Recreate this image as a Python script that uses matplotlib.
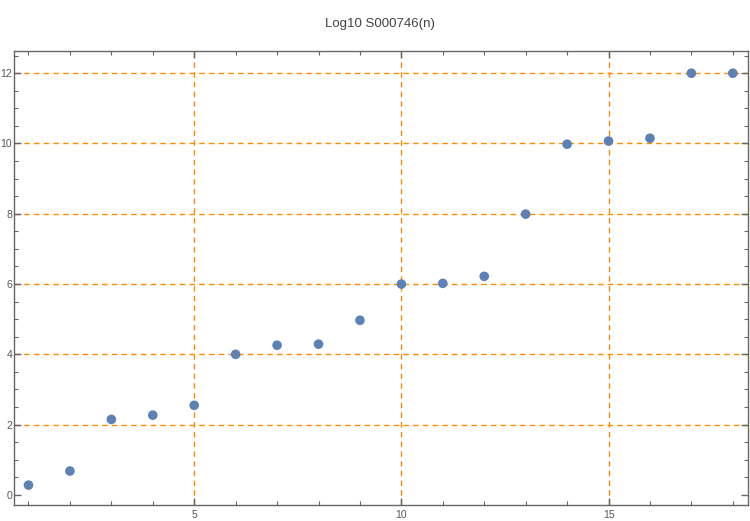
import matplotlib
matplotlib.use("Agg")
import matplotlib.pyplot as plt
from matplotlib.ticker import MultipleLocator, FixedLocator

n = list(range(1, 19))
values = [0.28, 0.68, 2.15, 2.27, 2.55, 4.00, 4.26, 4.29, 4.97,
          6.00, 6.02, 6.22, 7.99, 9.98, 10.07, 10.15, 12.0, 12.0]
x_major = [5, 10, 15]
y_major = [0, 2, 4, 6, 8, 10, 12]
title = "Log10 S000746(n)"

plt.rcParams['font.family'] = ['Liberation Sans', 'DejaVu Sans']
fig = plt.figure(figsize=(7.5, 5.21), dpi=100)
ax = fig.add_axes([0.0192, 0.0298, 0.9778, 0.8722])

frame_col = '#666666'
grid_col = '#FF8C00'

for xv in x_major:
    ax.axvline(xv, color=grid_col, lw=1.0, ls=(0, (4, 3)), zorder=1)
for yv in y_major[1:]:
    ax.axhline(yv, color=grid_col, lw=1.0, ls=(0, (4, 3)), zorder=1)

ax.scatter(n, values, s=48, color='#5E81B5', zorder=3, edgecolors='none')

ax.set_xlim(0.66, 18.36)
ax.set_ylim(-0.30, 12.63)

ax.xaxis.set_major_locator(FixedLocator(x_major))
ax.xaxis.set_minor_locator(MultipleLocator(1))
ax.yaxis.set_major_locator(FixedLocator(y_major))
ax.yaxis.set_minor_locator(MultipleLocator(0.5))

ax.tick_params(which='both', direction='in', top=True, right=True,
               color=frame_col, labelcolor='#555555', labelsize=7.5)
ax.tick_params(which='major', length=5, width=1)
ax.tick_params(which='minor', length=3, width=0.8)
ax.tick_params(axis='y', pad=1.5)
ax.tick_params(axis='x', pad=3)

for sp in ax.spines.values():
    sp.set_color(frame_col)
    sp.set_linewidth(1.0)

fig.text(0.506, 0.953, title, ha='center', va='center', fontsize=9.5, color='#444444')

fig.savefig("out.png", dpi=100)
